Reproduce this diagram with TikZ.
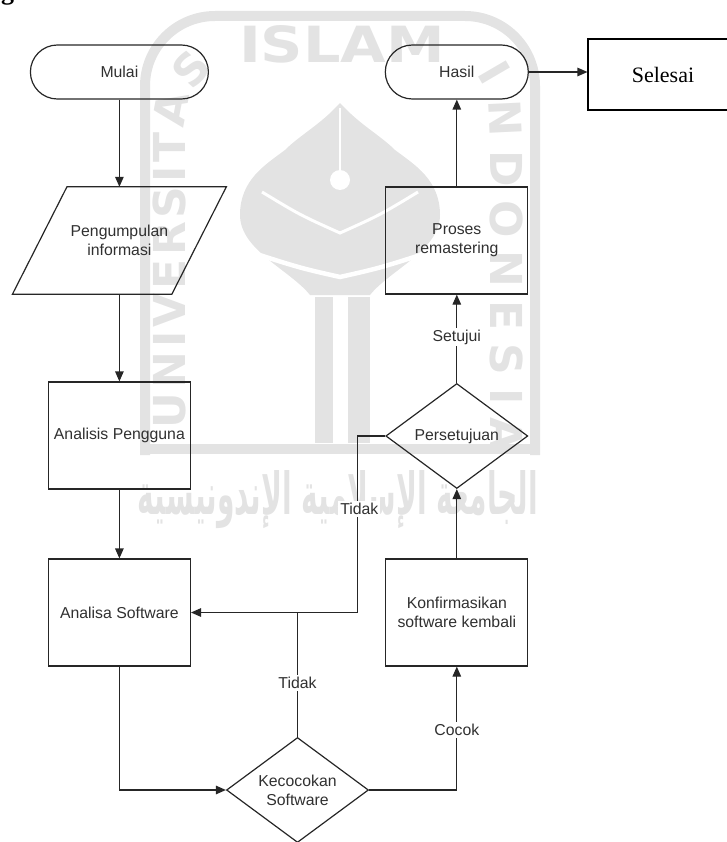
\documentclass[tikz,border=0pt]{standalone}
\usepackage{fontspec}
\setmainfont{Liberation Sans}
\newfontfamily\serifsel{Liberation Serif}
\newfontfamily\wmsans{DejaVu Sans}
\newfontfamily\wmarab[Script=Arabic]{DejaVu Sans}
\TeXXeTstate=1
\usetikzlibrary{arrows.meta,shapes.geometric,shapes.misc,decorations.text,calc}
\definecolor{ln}{HTML}{262626}
\definecolor{tx}{HTML}{303030}
\definecolor{wm}{HTML}{E3E3E3}
\begin{document}
\begin{tikzpicture}[x=1pt,y=-1pt,
  lab/.style={text=tx, font=\fontsize{15.8}{19}\selectfont, align=center},
  shp/.style={lab, draw=ln, line width=1.2pt, inner sep=0pt},
  term/.style={shp, rounded rectangle, minimum height=54pt},
  procbox/.style={shp, rectangle, minimum width=142pt, minimum height=107pt},
  decis/.style={shp, diamond, minimum width=142pt, minimum height=105pt, aspect=1.35},
  conn/.style={draw=ln, line width=1.2pt},
  arr/.style={conn, -{Triangle[length=10pt,width=8.5pt]}},
  edgelbl/.style={lab, fill=white, inner sep=2pt},
  wmline/.style={draw=wm, line width=10pt}
]
\useasboundingbox (0,0) rectangle (727,842);

% ---------- watermark ----------
\draw[wmline, rounded corners=70pt] (145,455) -- (145,16) -- (535,16) -- (535,455);
\draw[wmline] (140,449) -- (540,449);
\node[inner sep=0pt, anchor=south] (wmislam) at (342,63)
  {\resizebox{206pt}{37pt}{\color{wm}\wmsans\bfseries ISLAM}};
\path[decorate, decoration={text along path,
   text={|\wmsans\bfseries\fontsize{44}{44}\selectfont|UNIVERSITAS},
   text color=wm, text align={fit to path}}]
   (185,428) -- (185,130) .. controls (185,100) and (195,85) .. (214,68);
\path[decorate, decoration={text along path,
   text={|\wmsans\bfseries\fontsize{44}{44}\selectfont|INDONESIA},
   text color=wm, text align={fit to path}}]
   (476,74) .. controls (486,86) and (490,102) .. (490,130) -- (490,452);
\fill[wm] (340,103) .. controls (320,125) and (300,135) .. (285,150)
   .. controls (265,165) and (240,180) .. (240,215)
   .. controls (240,250) and (290,270) .. (310,295) -- (370,295)
   .. controls (390,270) and (440,250) .. (440,215)
   .. controls (440,180) and (415,165) .. (395,150)
   .. controls (380,135) and (360,125) .. (340,103) -- cycle;
\draw[white, line width=3pt] (262,192) .. controls (300,215) .. (340,233) .. controls (380,215) .. (418,192);
\draw[white, line width=4.5pt] (244,250) .. controls (300,268) .. (340,277) .. controls (380,268) .. (436,250);
\draw[white, line width=2.5pt] (340,108) -- (340,172);
\fill[white] (340,180) circle[radius=10];
\fill[wm] (315,297) rectangle (333,443);
\fill[wm] (348,297) rectangle (370,443);
\node[inner sep=0pt] (wmarabic) at (338,500)
  {\resizebox{400pt}{44pt}{\color{wm}\wmarab\bfseries\beginR الجامعة الإسلامية الإندونيسية\endR}};

% ---------- caption fragment ----------
\node[anchor=base west, inner sep=0pt, font=\serifsel\bfseries\fontsize{26}{26}\selectfont] (capg) at (1,0) {g};

% ---------- flowchart nodes ----------
\node[term, minimum width=178pt] (mulai) at (119.4,72) {Mulai};
\node[term, minimum width=143pt] (hasil) at (456.8,72) {Hasil};
\node[draw=black, line width=1.1pt, minimum width=150pt, minimum height=71pt, inner sep=0pt,
      font=\serifsel\fontsize{22}{24}\selectfont, text=black] (selesai) at (663,74.5) {Selesai};

\node[lab, inner sep=0pt, minimum width=159pt, minimum height=107pt] (peng) at (119.4,240.5) {Pengumpulan\\informasi};
\draw[conn] ($(peng.north west)+(27.25,0)$) -- ($(peng.north east)+(27.25,0)$)
   -- ($(peng.south east)+(-27.25,0)$) -- ($(peng.south west)+(-27.25,0)$) -- cycle;

\node[procbox] (pros) at (456.8,240.5) {Proses\\remastering};
\node[procbox] (anap) at (119.4,435.5) {Analisis Pengguna};
\node[procbox] (asw)  at (119.4,612.5) {Analisa Software};
\node[procbox] (konf) at (456.8,612.5) {Konfirmasikan\\software kembali};
\node[decis] (pers) at (456.8,436) {Persetujuan};
\node[decis] (kec)  at (297.5,790) {Kecocokan\\Software};

% ---------- connectors ----------
\draw[arr] (mulai.south) -- (peng.north);
\draw[arr] (peng.south) -- (anap.north);
\draw[arr] (anap.south) -- (asw.north);
\draw[arr] (asw.south) |- (kec.west);
\draw[arr] (kec.east) -| (konf.south);
\draw[arr] (konf.north) -- (pers.south);
\draw[arr] (pers.north) -- (pros.south);
\draw[arr] (pros.north) -- (hasil.south);
\draw[arr] (hasil.east) -- (hasil.east -| selesai.west);
\draw[arr] (pers.west) -- ++(-27.5,0) |- (asw.east);
\draw[conn] (kec.north) -- (kec.north |- asw.east);

% ---------- connector labels ----------
\node[edgelbl] (lsetujui) at (456.8,337) {Setujui};
\node[edgelbl] (ltidaka)  at (359.3,509) {Tidak};
\node[edgelbl] (ltidakb)  at (297.5,683) {Tidak};
\node[edgelbl] (lcocok)   at (456.8,730) {Cocok};
\end{tikzpicture}
\end{document}
